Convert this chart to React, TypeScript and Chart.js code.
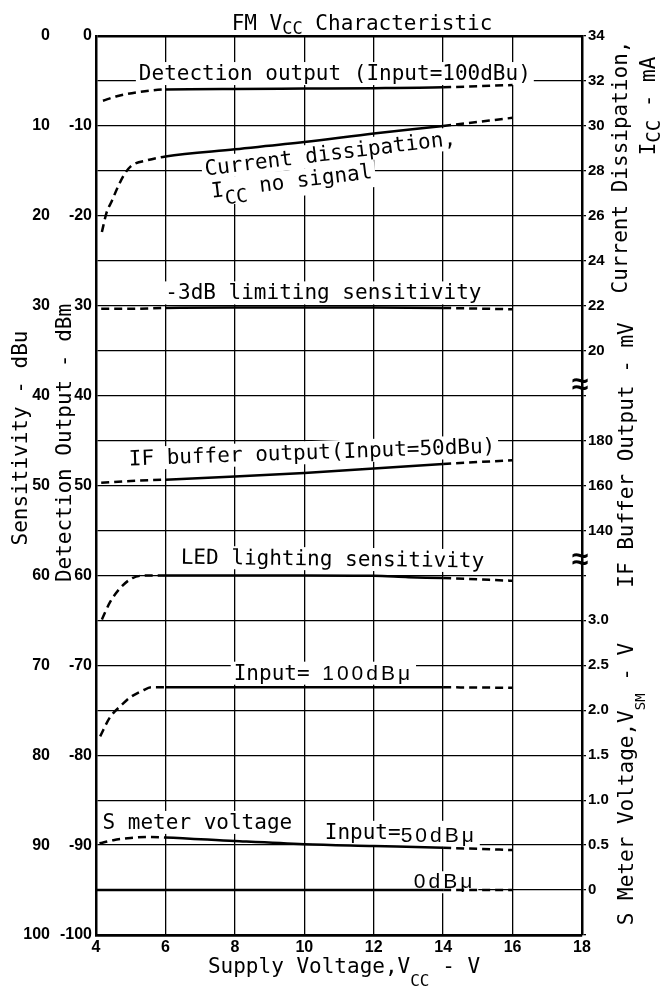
import React, { useEffect, useRef } from 'react';
import { Chart, registerables } from 'chart.js';
Chart.register(...registerables);

// ---------------- data ----------------
const xTickValues = [4, 6, 8, 10, 12, 14, 16, 18];
const yGridValues = [0, 5, 10, 15, 20, 25, 30, 35, 40, 45, 50, 55, 60, 65, 70, 75, 80, 85, 90, 95, 100];
const leftOuterLabels = ['0', '', '10', '', '20', '', '30', '', '40', '', '50', '', '60', '', '70', '', '80', '', '90', '', '100'];
const leftInnerLabels = ['0', '', '-10', '', '-20', '', '30', '', '40', '', '50', '', '60', '', '-70', '', '-80', '', '-90', '', '-100'];
const rightLabels = ['34', '32', '30', '28', '26', '24', '22', '20', '', '180', '160', '140', '', '3.0', '2.5', '2.0', '1.5', '1.0', '0.5', '0', ''];

const detX = [4.2, 4.6, 5.2, 6, 8, 10, 12, 14, 16];
const detY = [7.2, 6.7, 6.25, 5.95, 5.9, 5.85, 5.8, 5.7, 5.45];

const ccX = [4.17, 4.3, 4.45, 4.63, 4.8, 5.0, 5.5, 6, 8, 10, 12, 14, 16];
const ccY = [21.8, 19.7, 18.4, 16.8, 15.5, 14.5, 13.8, 13.4, 12.6, 11.8, 10.85, 10.0, 9.1];

const limX = [4.15, 5, 6, 8, 10, 12, 14, 16];
const limY = [30.35, 30.35, 30.25, 30.2, 30.2, 30.2, 30.25, 30.4];

const ifX = [4.15, 5, 6, 8, 10, 12, 14, 16];
const ifY = [49.7, 49.5, 49.35, 49.0, 48.6, 48.1, 47.6, 47.2];

const ledX = [4.17, 4.4, 4.7, 5.05, 5.5, 6, 8, 10, 12, 13, 14, 16];
const ledY = [64.9, 63.0, 61.4, 60.3, 60.0, 60.0, 60.0, 60.0, 60.05, 60.2, 60.3, 60.6];

const s100X = [4.12, 4.4, 4.77, 4.97, 5.35, 5.6, 6, 8, 10, 12, 14, 16];
const s100Y = [77.9, 75.8, 74.3, 73.6, 72.8, 72.45, 72.45, 72.45, 72.45, 72.45, 72.45, 72.5];

const s50X = [4.1, 4.5, 5.0, 5.5, 6, 8, 10, 12, 14, 16];
const s50Y = [89.8, 89.45, 89.2, 89.1, 89.15, 89.55, 89.9, 90.1, 90.3, 90.55];

const s0X = [4, 6, 10, 14, 16];
const s0Y = [95, 95, 95, 95, 95];

// ---------------- styling / layout ----------------
const MONO = "'DejaVu Sans Mono', monospace";
const SANS = "'Liberation Sans', Arial, sans-serif";
const mono = (s: number) => `normal ${s}px ${MONO}`;
const sans = (s: number) => `normal ${s}px ${SANS}`;
const BASE = mono(21);

type Part = { t: string; font?: string; dy?: number; ls?: number };

type Series = { label: string; xs: number[]; ys: number[]; solidFrom: number; solidTo: number };
const series: Series[] = [
  { label: 'Detection output', xs: detX, ys: detY, solidFrom: 6, solidTo: 14 },
  { label: 'Current dissipation', xs: ccX, ys: ccY, solidFrom: 6, solidTo: 14 },
  { label: '-3dB limiting sensitivity', xs: limX, ys: limY, solidFrom: 6, solidTo: 14 },
  { label: 'IF buffer output', xs: ifX, ys: ifY, solidFrom: 6, solidTo: 14 },
  { label: 'LED lighting sensitivity', xs: ledX, ys: ledY, solidFrom: 6, solidTo: 14 },
  { label: 'S meter 100dBu', xs: s100X, ys: s100Y, solidFrom: 6, solidTo: 14 },
  { label: 'S meter 50dBu', xs: s50X, ys: s50Y, solidFrom: 6, solidTo: 14 },
  { label: 'S meter 0dBu', xs: s0X, ys: s0Y, solidFrom: 4, solidTo: 14 },
];

// labels inside the plot (anchor in data units, baseline)
const plotLabels: { parts: Part[]; x: number; y: number; rot: number }[] = [
  { parts: [{ t: 'Detection output (Input=100dBu)' }], x: 10.88, y: 4.9, rot: 0 },
  { parts: [{ t: 'Current dissipation,' }], x: 10.77, y: 13.8, rot: -7 },
  { parts: [{ t: 'I' }, { t: 'CC', font: mono(19), dy: 8 }, { t: ' no signal' }], x: 9.66, y: 16.9, rot: -7 },
  { parts: [{ t: '-3dB limiting sensitivity' }], x: 10.55, y: 29.3, rot: 0 },
  { parts: [{ t: 'IF buffer output(Input=50dBu)' }], x: 10.23, y: 47.05, rot: -2 },
  { parts: [{ t: 'LED lighting sensitivity' }], x: 10.81, y: 58.9, rot: 0.7 },
  { parts: [{ t: 'Input= ' }, { t: '100dB\u03bc', font: sans(21), ls: 3 }], x: 10.55, y: 71.6, rot: 0 },
  { parts: [{ t: 'S meter voltage' }], x: 6.92, y: 88.2, rot: 0 },
  { parts: [{ t: 'Input=' }, { t: '50dB\u03bc', font: sans(21), ls: 3, dy: 3 }], x: 12.78, y: 89.3, rot: 0 },
  { parts: [{ t: '0dB\u03bc', font: sans(21), ls: 3 }], x: 14.04, y: 94.8, rot: 0 },
];

// titles (anchor in pixels, baseline)
const titles: { parts: Part[]; px: number; py: number; rot: number }[] = [
  { parts: [{ t: 'FM V' }, { t: 'CC', font: mono(17), dy: 4 }, { t: ' Characteristic' }], px: 362, py: 30, rot: 0 },
  { parts: [{ t: 'Supply Voltage,V' }, { t: 'CC', font: mono(16), dy: 13 }, { t: ' - V' }], px: 344, py: 973, rot: 0 },
  { parts: [{ t: 'Sensitivity - dBu' }], px: 27, py: 438, rot: -90 },
  { parts: [{ t: 'Detection Output - dBm' }], px: 71, py: 443, rot: -90 },
  { parts: [{ t: 'Current Dissipation,' }], px: 627, py: 167, rot: -90 },
  { parts: [{ t: 'I' }, { t: 'CC', font: mono(19), dy: 5 }, { t: ' - mA' }], px: 655, py: 106, rot: -90 },
  { parts: [{ t: 'IF Buffer Output - mV' }], px: 633, py: 455, rot: -90 },
  { parts: [{ t: 'S Meter Voltage,V' }, { t: 'SM', font: mono(14), dy: 12 }, { t: ' - V' }], px: 633, py: 784, rot: -90 },
];

const breakMarks = [38.9, 58.4];

function measure(ctx: CanvasRenderingContext2D, parts: Part[]) {
  let w = 0, asc = 0, desc = 0;
  const items = parts.map((p) => {
    ctx.font = p.font || BASE;
    (ctx as any).letterSpacing = (p.ls || 0) + 'px';
    const m = ctx.measureText(p.t);
    const it = { ...p, x: w, w: m.width };
    w += m.width;
    asc = Math.max(asc, m.actualBoundingBoxAscent - (p.dy || 0));
    desc = Math.max(desc, m.actualBoundingBoxDescent + (p.dy || 0));
    return it;
  });
  (ctx as any).letterSpacing = '0px';
  return { items, w, asc, desc };
}

function drawRich(ctx: CanvasRenderingContext2D, parts: Part[], x: number, y: number, rot: number, mode: 'box' | 'text') {
  ctx.save();
  ctx.translate(x, y);
  ctx.rotate((rot * Math.PI) / 180);
  const { items, w, asc, desc } = measure(ctx, parts);
  const x0 = -w / 2;
  if (mode === 'box') {
    ctx.fillStyle = '#fff';
    ctx.fillRect(x0 - 3, -asc - 2, w + 6, asc + desc + 3);
  } else {
    ctx.fillStyle = '#000';
    ctx.textBaseline = 'alphabetic';
    ctx.textAlign = 'left';
    for (const it of items) {
      ctx.font = it.font || BASE;
      (ctx as any).letterSpacing = (it.ls || 0) + 'px';
      ctx.fillText(it.t, x0 + it.x, it.dy || 0);
    }
    (ctx as any).letterSpacing = '0px';
  }
  ctx.restore();
}

const textPlugin = {
  id: 'richText',
  beforeDatasetsDraw(chart: any) {
    const ctx = chart.ctx;
    const sx = chart.scales.x, sy = chart.scales.y;
    for (const l of plotLabels) {
      drawRich(ctx, l.parts, sx.getPixelForValue(l.x), sy.getPixelForValue(l.y), l.rot, 'box');
    }
  },
  afterDatasetsDraw(chart: any) {
    const ctx = chart.ctx;
    const sx = chart.scales.x, sy = chart.scales.y;
    for (const l of plotLabels) {
      drawRich(ctx, l.parts, sx.getPixelForValue(l.x), sy.getPixelForValue(l.y), l.rot, 'text');
    }
    for (const t of titles) drawRich(ctx, t.parts, t.px, t.py, t.rot, 'text');
    ctx.save();
    ctx.fillStyle = '#000';
    ctx.font = `bold 30px ${SANS}`;
    ctx.textAlign = 'center';
    ctx.textBaseline = 'middle';
    for (const b of breakMarks) ctx.fillText('\u2248', chart.chartArea.right - 2, sy.getPixelForValue(b));
    ctx.restore();
  },
};

const tickFont = { family: SANS, size: 16, weight: 'bold' as const };

export default function App() {
  const ref = useRef<HTMLCanvasElement>(null);
  useEffect(() => {
    const datasets = series.map((s) => ({
      label: s.label,
      data: s.xs.map((v, i) => ({ x: v, y: s.ys[i] })),
      borderColor: '#000',
      backgroundColor: '#000',
      borderWidth: 2.5,
      pointRadius: 0,
      fill: false,
      cubicInterpolationMode: 'monotone' as const,
      xAxisID: 'x',
      yAxisID: 'y',
      segment: {
        borderDash: (ctx: any) =>
          ctx.p1.parsed.x <= s.solidFrom + 1e-6 || ctx.p0.parsed.x >= s.solidTo - 1e-6 ? [8, 5] : undefined,
      },
    }));
    const gridWidth = (c: any) => (c.tick && (c.tick.value === 0 || c.tick.value === 100) ? 2.5 : 1.3);
    const chart = new Chart(ref.current!, {
      type: 'line',
      data: { datasets },
      plugins: [textPlugin],
      options: {
        responsive: false,
        animation: false,
        events: [],
        layout: { padding: { top: 36, left: 0, right: 0, bottom: 0 } },
        plugins: { legend: { display: false }, tooltip: { enabled: false }, title: { display: false } },
        scales: {
          x: {
            type: 'linear',
            min: 4,
            max: 18,
            afterBuildTicks: (s: any) => { s.ticks = xTickValues.map((v) => ({ value: v })); },
            ticks: { color: '#000', font: tickFont, padding: 3, callback: (v: any) => String(v), maxRotation: 0, autoSkip: false },
            grid: { color: '#000', lineWidth: 1.3, drawTicks: false },
            border: { color: '#000', width: 2.5 },
            afterFit: (s: any) => { s.height = 51; s.paddingLeft = 0; s.paddingRight = 0; },
          },
          y: {
            type: 'linear',
            position: 'left',
            weight: 0,
            min: 0,
            max: 100,
            reverse: true,
            afterBuildTicks: (s: any) => { s.ticks = yGridValues.map((v) => ({ value: v })); },
            ticks: { color: '#000', font: tickFont, padding: 4, autoSkip: false, callback: (_v: any, i: number) => leftInnerLabels[i] },
            grid: { color: '#000', lineWidth: gridWidth, drawTicks: false },
            border: { color: '#000', width: 2.5 },
            afterFit: (s: any) => { s.width = 42; s.paddingTop = 0; s.paddingBottom = 0; },
          },
          yOuter: {
            type: 'linear',
            position: 'left',
            weight: 1,
            min: 0,
            max: 100,
            reverse: true,
            afterBuildTicks: (s: any) => { s.ticks = yGridValues.map((v) => ({ value: v })); },
            ticks: { color: '#000', font: tickFont, padding: 4, autoSkip: false, callback: (_v: any, i: number) => leftOuterLabels[i] },
            grid: { display: false, drawTicks: false },
            border: { display: false },
            afterFit: (s: any) => { s.width = 54; s.paddingTop = 0; s.paddingBottom = 0; },
          },
          yRight: {
            type: 'linear',
            position: 'right',
            min: 0,
            max: 100,
            reverse: true,
            afterBuildTicks: (s: any) => { s.ticks = yGridValues.map((v) => ({ value: v })); },
            ticks: { color: '#000', font: { family: SANS, size: 15, weight: 'bold' as const }, padding: 2, autoSkip: false, callback: (_v: any, i: number) => rightLabels[i] },
            grid: { color: '#000', lineWidth: 1.3, drawOnChartArea: false, drawTicks: true, tickLength: 4 },
            border: { color: '#000', width: 2.5 },
            afterFit: (s: any) => { s.width = 85; s.paddingTop = 0; s.paddingBottom = 0; },
          },
        },
      } as any,
    });
    return () => chart.destroy();
  }, []);
  return (
    <div style={{ position: 'absolute', left: 0, top: 0, width: 667, height: 986, background: '#fff' }}>
      <canvas ref={ref} width={667} height={986} style={{ display: 'block', width: 667, height: 986 }} />
    </div>
  );
}
